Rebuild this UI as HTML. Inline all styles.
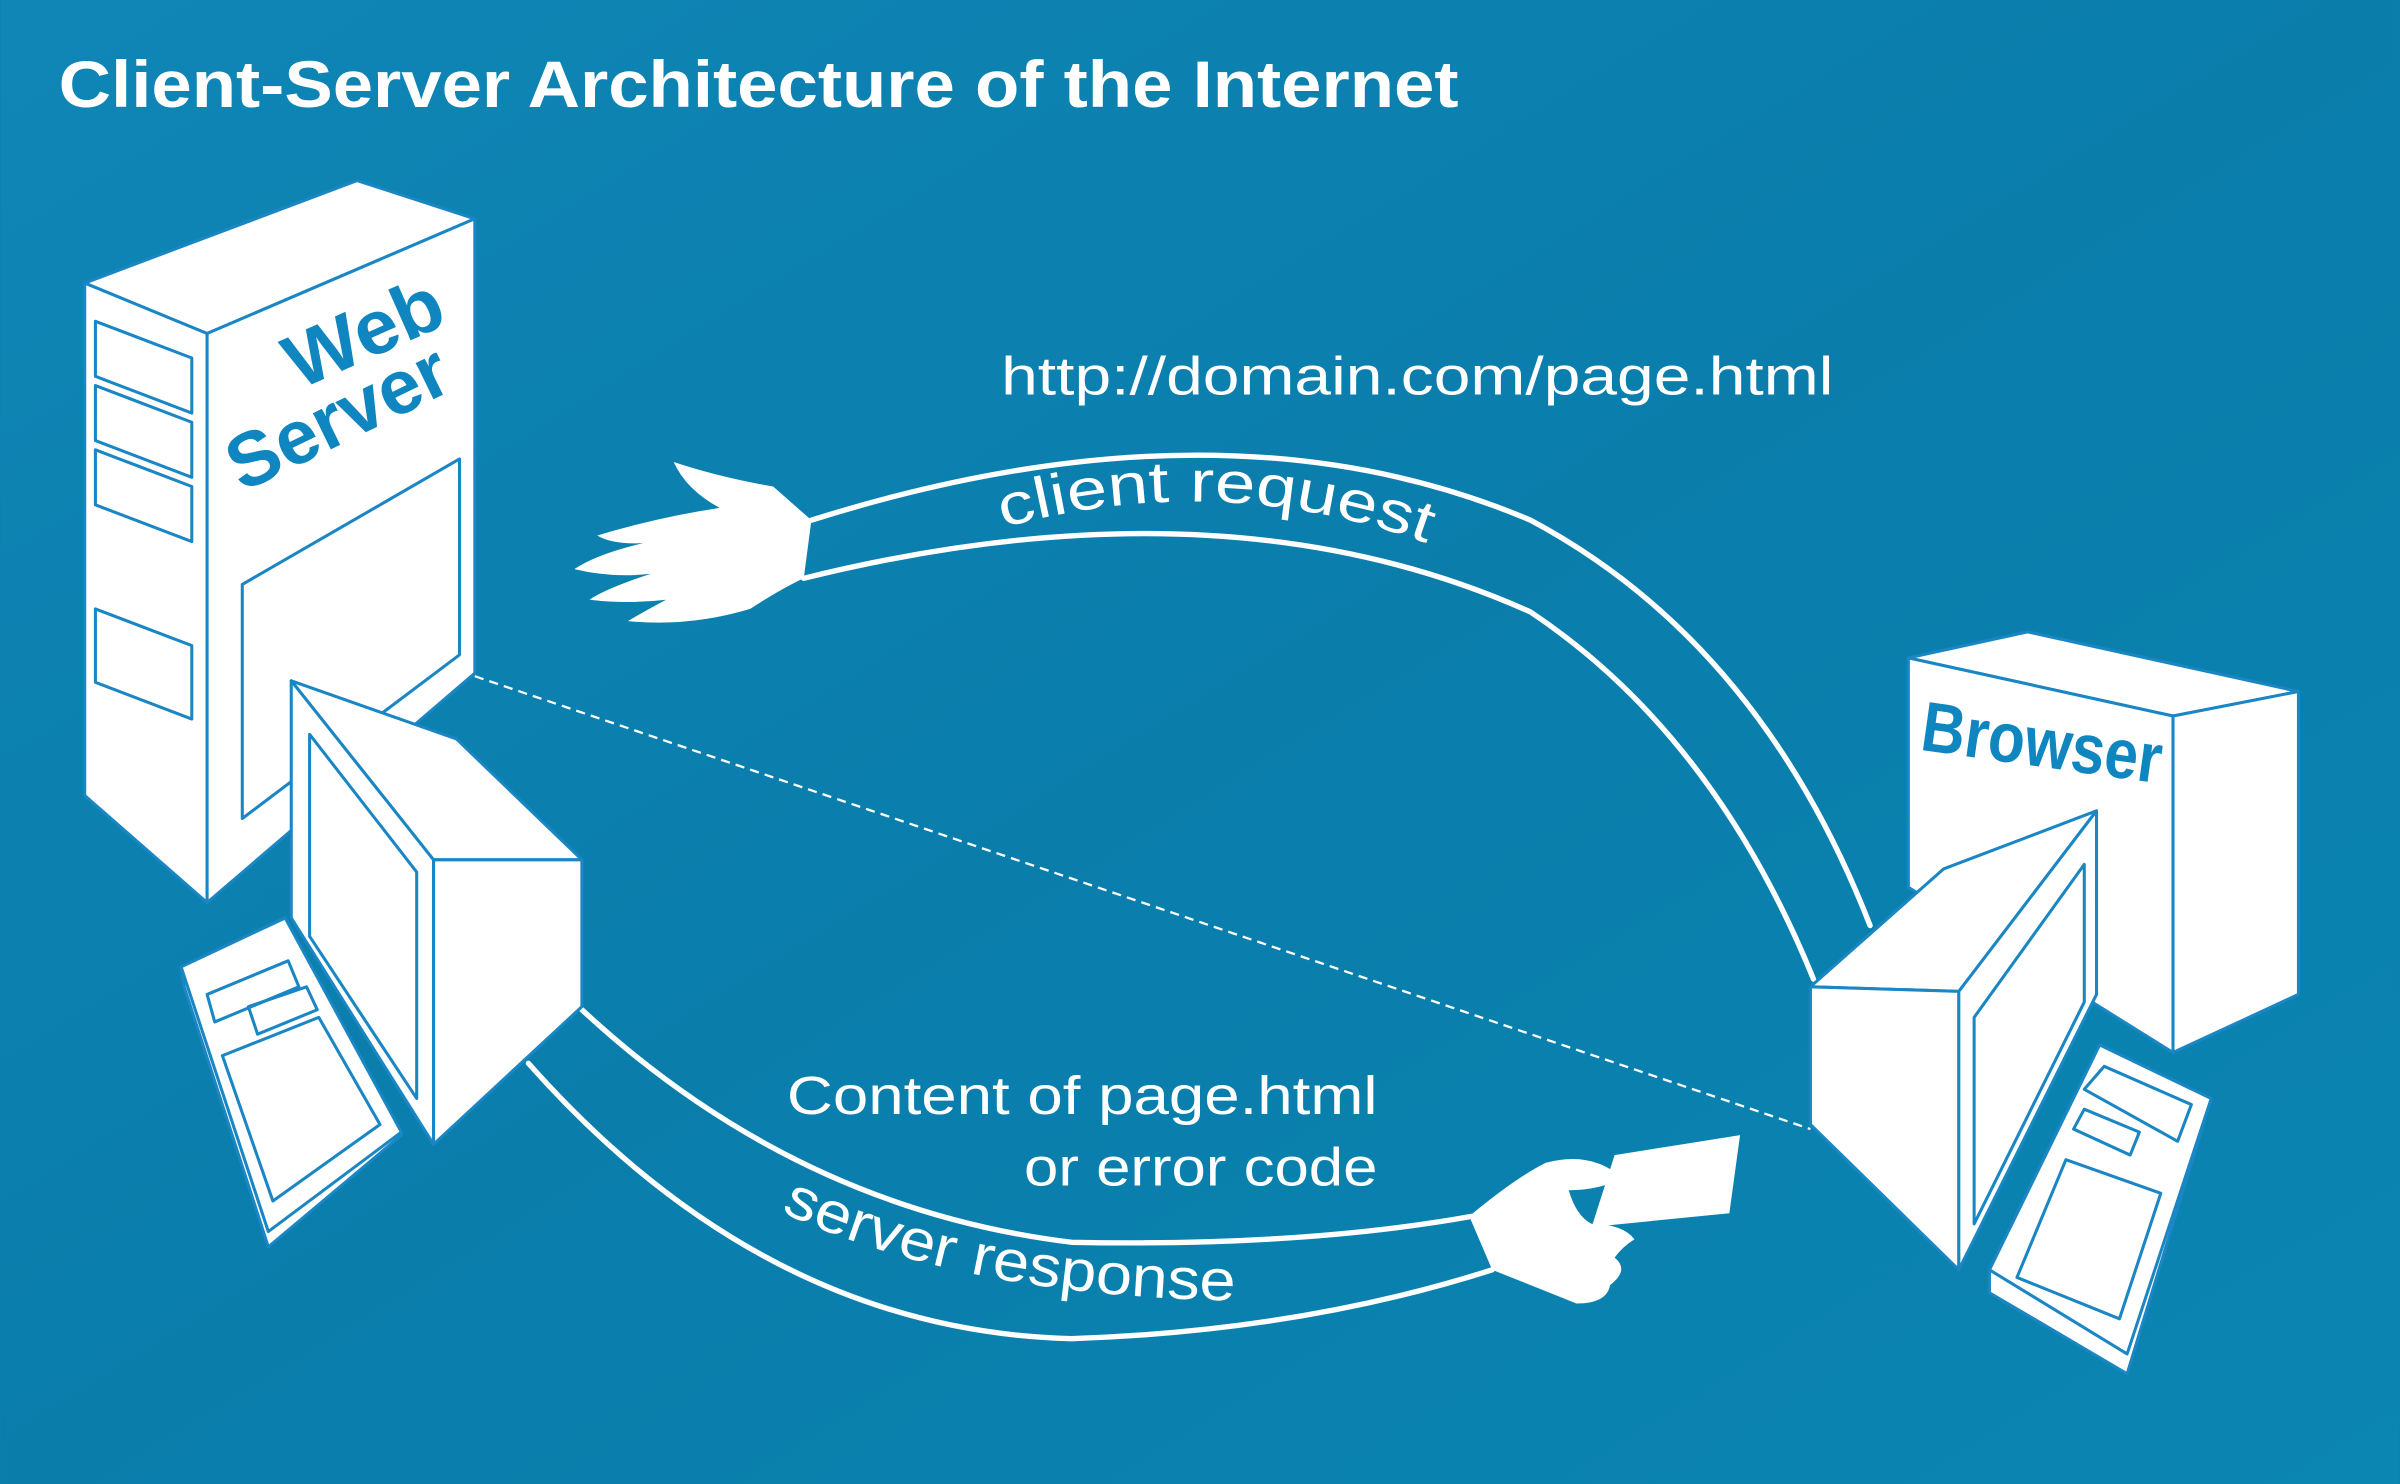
<!DOCTYPE html>
<html><head><meta charset="utf-8"><style>
html,body{margin:0;padding:0;width:2400px;height:1484px;overflow:hidden;background:#0b80ae}
svg{display:block}
</style></head><body>
<svg width="2400" height="1484" viewBox="0 0 1568 970" xmlns="http://www.w3.org/2000/svg">
<defs>
<linearGradient id="bg" x1="0" y1="0" x2="1" y2="1">
<stop offset="0" stop-color="#0f86b6"/><stop offset="0.5" stop-color="#0a7dab"/><stop offset="1" stop-color="#0b85b2"/>
</linearGradient>
<path id="req" d="M655,345 Q800,305 940,358"/>
<path id="resp" d="M510,792 Q630,848 810,850"/>
</defs>
<rect width="1568" height="970" fill="url(#bg)"/>
<text x="38" y="70" font-family="Liberation Sans, sans-serif" font-weight="bold" font-size="43" fill="#fff" textLength="915" lengthAdjust="spacingAndGlyphs">Client-Server Architecture of the Internet</text>

<g stroke="#fff" stroke-width="3.5" fill="none" stroke-linecap="round">
<path d="M530,340 Q800,255 1000,340 Q1150,420 1222,605"/>
<path d="M525,378 Q800,310 1000,400 Q1120,480 1185,640"/>
<path d="M380,660 Q520,790 700,812 Q850,815 962,795"/>
<path d="M345,695 Q500,870 700,875 Q850,870 975,830"/>
</g>
<line x1="310" y1="442" x2="1183" y2="738" stroke="#fff" stroke-width="1.5" stroke-dasharray="6,4"/>

<path fill="#fff" d="M530,340 L505,318 Q470,312 440,302 Q448,320 470,332 Q430,338 390,350 Q400,356 420,355 Q390,362 375,372 Q400,378 425,375 Q395,385 385,392 Q410,395 435,392 Q420,400 410,406 Q450,410 490,398 Q510,385 525,378 Z"/>
<polygon fill="#fff" points="1055,755 1137,742 1130,793 1040,802"/>
<path fill="#fff" d="M960,795 Q990,770 1010,760 Q1040,752 1060,770 Q1045,778 1025,778 Q1030,795 1040,800 Q1060,800 1068,810 Q1060,815 1055,822 Q1065,830 1052,840 Q1050,852 1030,852 Q1000,840 975,830 Z"/>

<g font-family="Liberation Sans, sans-serif" fill="#fff">
<text x="654" y="258" font-size="35" textLength="544" lengthAdjust="spacingAndGlyphs">http://domain.com/page.html</text>
<text x="514" y="728" font-size="35" textLength="386" lengthAdjust="spacingAndGlyphs">Content of page.html</text>
<text x="669" y="775" font-size="35" textLength="231" lengthAdjust="spacingAndGlyphs">or error code</text>
<text font-size="38"><textPath href="#req" textLength="282" lengthAdjust="spacingAndGlyphs">client request</textPath></text>
<text font-size="38"><textPath href="#resp" textLength="305" lengthAdjust="spacingAndGlyphs">server response</textPath></text>
</g>

<g stroke="#1a86c4" stroke-width="2" fill="#fff" stroke-linejoin="round">
<polygon points="55,185 233,118 310,143 135,218"/>
<polygon points="55,185 135,218 135,590 55,520"/>
<polygon points="135,218 310,143 310,440 135,590"/>
<polygon points="158,382 300,300 300,428 158,535" fill="none"/>
<polygon points="62,210 125,234 125,270 62,246" fill="none"/>
<polygon points="62,252 125,276 125,312 62,288" fill="none"/>
<polygon points="62,294 125,318 125,354 62,330" fill="none"/>
<polygon points="62,398 125,422 125,470 62,446" fill="none"/>
<polygon points="118,632 186,600 262,742 175,815 120,645"/>
<polygon points="118,632 186,600 262,740 175,805" />
<polygon points="135,650 188,628 195,645 140,668" fill="none"/>
<polygon points="162,658 200,645 207,660 168,676" fill="none"/>
<polygon points="145,690 208,665 248,735 178,785" fill="none"/>
<polygon points="190,445 298,483 380,562 283,562"/>
<polygon points="283,562 380,562 380,658 283,748"/>
<polygon points="190,445 283,562 283,748 190,600"/>
<polygon points="202,480 272,570 272,718 202,612" fill="none"/>
<polygon points="1247,430 1325,413 1502,452 1420,468"/>
<polygon points="1247,430 1420,468 1420,688 1247,580"/>
<polygon points="1420,468 1502,452 1502,650 1420,688"/>
<polygon points="1300,830 1372,683 1445,718 1390,898 1300,845"/>
<polygon points="1300,830 1372,683 1445,718 1390,885"/>
<polygon points="1362,712 1375,697 1432,722 1423,746" fill="none"/>
<polygon points="1355,738 1362,725 1398,740 1392,755" fill="none"/>
<polygon points="1318,835 1350,758 1412,780 1385,862" fill="none"/>
<polygon points="1183,645 1270,568 1370,530 1280,648"/>
<polygon points="1183,645 1280,648 1280,830 1183,735"/>
<polygon points="1280,648 1370,530 1370,650 1280,830"/>
<polygon points="1290,665 1362,565 1362,655 1290,800" fill="none"/>
</g>

<g font-family="Liberation Sans, sans-serif" font-weight="bold" fill="#0f86c0">
<text transform="translate(195,255) rotate(-24)" font-size="50" textLength="108" lengthAdjust="spacingAndGlyphs">Web</text>
<text transform="translate(158,322) rotate(-26)" font-size="50" textLength="155" lengthAdjust="spacingAndGlyphs">Server</text>
<text transform="translate(1254,490) rotate(8)" font-size="46" textLength="158" lengthAdjust="spacingAndGlyphs">Browser</text>
</g>
</svg>
</body></html>
